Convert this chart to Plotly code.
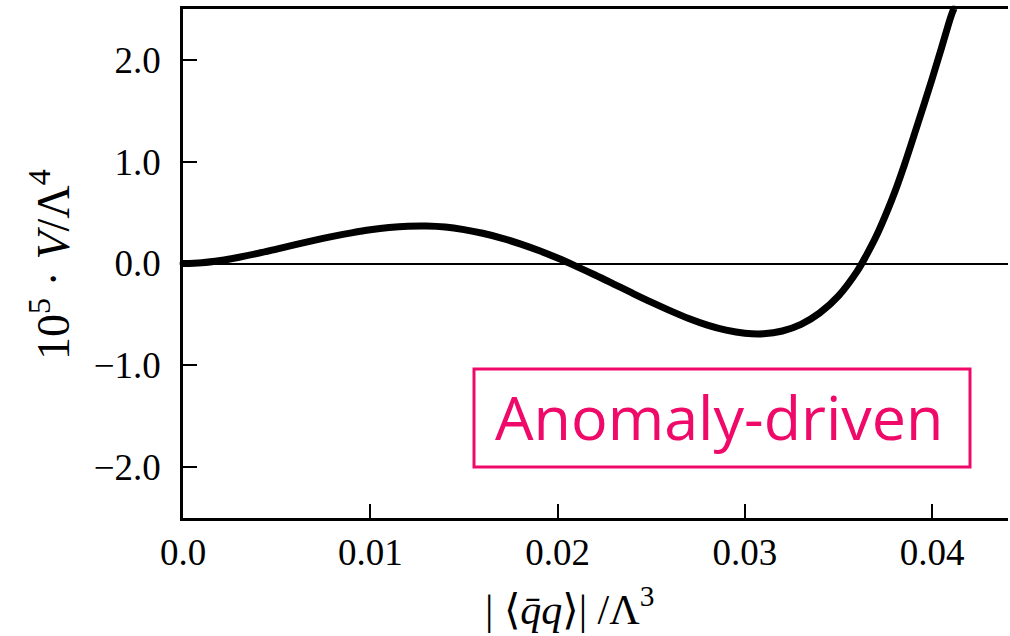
import plotly.graph_objects as go

# Data (curve samples)
x_vals = [0.000, 0.001, 0.002, 0.003, 0.004, 0.005, 0.006, 0.007, 0.008, 0.009,
          0.010, 0.011, 0.012, 0.013, 0.014, 0.015, 0.016, 0.017, 0.018, 0.019,
          0.020, 0.021, 0.022, 0.023, 0.024, 0.025, 0.026, 0.027, 0.028, 0.029,
          0.030, 0.031, 0.032, 0.033, 0.034, 0.035, 0.036, 0.0365, 0.037, 0.0375,
          0.038, 0.0385, 0.039, 0.0395, 0.040, 0.0405, 0.041, 0.04115]
y_vals = [0.000, 0.008, 0.030, 0.062, 0.100, 0.142, 0.185, 0.227, 0.266, 0.301,
          0.331, 0.353, 0.366, 0.368, 0.358, 0.333, 0.297, 0.250, 0.193, 0.127,
          0.053, -0.028, -0.113, -0.202, -0.292, -0.380, -0.463, -0.540, -0.605, -0.655,
          -0.685, -0.690, -0.663, -0.598, -0.485, -0.318, -0.075, 0.085, 0.262, 0.470,
          0.700, 0.960, 1.240, 1.525, 1.815, 2.118, 2.425, 2.500]

x_tick_vals = [0.0, 0.01, 0.02, 0.03, 0.04]
x_tick_text = ["0.0", "0.01", "0.02", "0.03", "0.04"]
y_tick_vals = [-2, -1, 0, 1, 2]
y_tick_text = ["\u22122.0", "\u22121.0", "0.0", "1.0", "2.0"]

label_text = "Anomaly-driven"
pink = "#ef0a6a"
serif = "Liberation Serif, DejaVu Serif, serif"

W, H = 1010, 636
L, R, T, B = 183, 1008, 9, 518

fig = go.Figure()
end_sizes = [7] + [0] * (len(x_vals) - 2) + [7]
fig.add_trace(go.Scatter(
    x=x_vals, y=y_vals, mode="lines+markers",
    line=dict(color="black", width=7, shape="spline", smoothing=1.0),
    marker=dict(size=end_sizes, color="black", line=dict(width=0)),
    showlegend=False, hoverinfo="skip", cliponaxis=False,
))

fig.update_layout(
    width=W, height=H,
    margin=dict(l=L, r=W - R, t=T, b=H - B, pad=0),
    paper_bgcolor="white", plot_bgcolor="white",
    font=dict(family=serif, size=36, color="black"),
    xaxis=dict(
        range=[0, 0.04405], tickvals=x_tick_vals, ticktext=x_tick_text,
        showgrid=False, zeroline=False, showline=True, linecolor="black", linewidth=2.5,
        mirror=True, ticks="inside", ticklen=14, tickwidth=2, tickcolor="black",
        ticklabelstandoff=0, tickfont=dict(family=serif, size=37),
    ),
    yaxis=dict(
        range=[-2.5, 2.5], tickvals=y_tick_vals, ticktext=y_tick_text,
        showgrid=False, zeroline=True, zerolinecolor="black", zerolinewidth=2,
        showline=True, linecolor="black", linewidth=2.5, mirror=False,
        ticks="inside", ticklen=14, tickwidth=2, tickcolor="black",
        ticklabelstandoff=12, tickfont=dict(family=serif, size=37),
    ),
)

pw, ph = R - L, B - T
def px(xp):
    return (xp - L) / pw
def py(yp):
    return (B - yp) / ph

# label box
fig.add_shape(type="rect", xref="paper", yref="paper",
              x0=px(474), x1=px(970), y0=py(467), y1=py(369),
              line=dict(color=pink, width=3), fillcolor="rgba(0,0,0,0)")
fig.add_annotation(xref="paper", yref="paper", x=px(719), y=py(416),
                   text=label_text, showarrow=False, xanchor="center", yanchor="middle",
                   font=dict(family="Open Sans, Noto Sans, sans-serif", size=61, color=pink))

# axis titles
fig.add_annotation(xref="paper", yref="paper", x=px(569), y=py(606),
                   text="| \u27e8<i>q\u0304q</i>\u27e9| /\u039b<sup>3</sup>", showarrow=False,
                   xanchor="center", yanchor="middle", font=dict(family=serif, size=42))
fig.add_annotation(xref="paper", yref="paper", x=px(50), y=py(265),
                   text="10<sup>5</sup> \u00b7 <i>V</i>/\u039b<sup>4</sup>", showarrow=False,
                   textangle=-90, xanchor="center", yanchor="middle",
                   font=dict(family=serif, size=46))

fig.write_html("out.html", config={"displayModeBar": False},
               post_script="document.body.style.margin='0px';")
